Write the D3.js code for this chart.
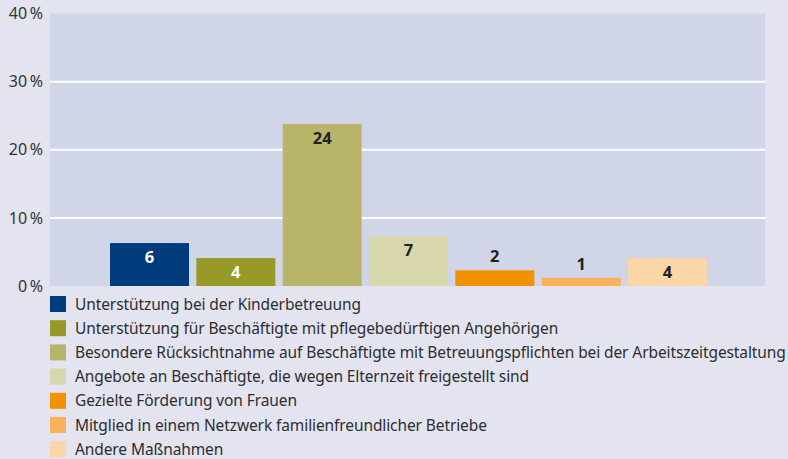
<!DOCTYPE html>
<html>
<head>
<meta charset="utf-8">
<script src="https://cdn.jsdelivr.net/npm/d3@7"></script>
<style>
  html, body { margin: 0; padding: 0; background: #e3e4f0; }
  svg { display: block; }
  text { font-family: "Noto Sans", "Open Sans", sans-serif; }
</style>
</head>
<body>
<svg id="chart" width="788" height="459"></svg>
<script>
// Maßnahmen zur Vereinbarkeit von Familie und Beruf (Anteil der Betriebe in %)
const categories = [
  "Unterstützung bei der Kinderbetreuung",
  "Unterstützung für Beschäftigte mit pflegebedürftigen Angehörigen",
  "Besondere Rücksichtnahme auf Beschäftigte mit Betreuungspflichten bei der Arbeitszeitgestaltung",
  "Angebote an Beschäftigte, die wegen Elternzeit freigestellt sind",
  "Gezielte Förderung von Frauen",
  "Mitglied in einem Netzwerk familienfreundlicher Betriebe",
  "Andere Maßnahmen"
];
const values = [6.3, 4.1, 23.8, 7.3, 2.3, 1.2, 4.1];
const colors = ["#003b7c", "#979a26", "#b8b56a", "#d8d6ab", "#f39200", "#f9b15a", "#fbd6a6"];
const labelColors = ["#ffffff", "#ffffff", "#222222", "#222222", "#222222", "#222222", "#222222"];
const yTicks = [0, 10, 20, 30, 40];
const yTickLabels = ["0\u2009%", "10\u2009%", "20\u2009%", "30\u2009%", "40\u2009%"];

const svg = d3.select("#chart");
const plot = { left: 50, right: 765, top: 13.5, bottom: 286 };

const y = d3.scaleLinear().domain([0, 40]).range([plot.bottom, plot.top]);
const x = d3.scaleBand().domain(categories).range([110, 707])
  .paddingInner(0.085).paddingOuter(0);

// plot background
svg.append("rect")
  .attr("x", plot.left).attr("y", plot.top)
  .attr("width", plot.right - plot.left).attr("height", plot.bottom - plot.top)
  .attr("fill", "#d0d5e8");

// y labels via axis
const yAxis = d3.axisLeft(y).tickValues(yTicks)
  .tickFormat((d, i) => yTickLabels[i])
  .tickSize(0).tickPadding(7);
const ya = svg.append("g").attr("transform", `translate(${plot.left},0)`).call(yAxis);
ya.select(".domain").remove();
ya.selectAll("text").attr("font-size", 16).attr("fill", "#333")
  .attr("font-family", "\"Noto Sans\", sans-serif");

// white gridlines
svg.append("g").selectAll("line")
  .data(yTicks.filter(t => t > 0 && t < 40))
  .join("line")
  .attr("x1", plot.left).attr("x2", plot.right)
  .attr("y1", d => y(d)).attr("y2", d => y(d))
  .attr("stroke", "#ffffff").attr("stroke-width", 2);

// bars
svg.append("g").selectAll("rect")
  .data(values)
  .join("rect")
  .attr("x", (d, i) => x(categories[i]))
  .attr("y", d => y(d))
  .attr("width", x.bandwidth())
  .attr("height", d => y(0) - y(d))
  .attr("fill", (d, i) => colors[i]);

// value labels: inside near the top, above for short bars
svg.append("g").selectAll("text")
  .data(values)
  .join("text")
  .attr("x", (d, i) => x(categories[i]) + x.bandwidth() / 2)
  .attr("y", d => d < 3 ? y(d) - 14 : y(d) + 14)
  .attr("dy", "0.36em")
  .attr("text-anchor", "middle")
  .attr("font-size", 16.5)
  .attr("font-weight", "bold")
  .attr("fill", (d, i) => d < 3 ? "#222222" : labelColors[i])
  .text(d => Math.round(d));

// legend
const legend = svg.append("g").selectAll("g")
  .data(categories)
  .join("g")
  .attr("transform", (d, i) => `translate(50, ${304 + i * 24.2})`);
legend.append("rect")
  .attr("x", 0).attr("y", -8).attr("width", 16).attr("height", 16)
  .attr("fill", (d, i) => colors[i]);
legend.append("text")
  .attr("x", 25).attr("y", 0).attr("dy", "0.36em")
  .attr("font-size", 15.5).attr("letter-spacing", -0.1).attr("fill", "#2e2e2e")
  .text(d => d);
</script>
</body>
</html>
